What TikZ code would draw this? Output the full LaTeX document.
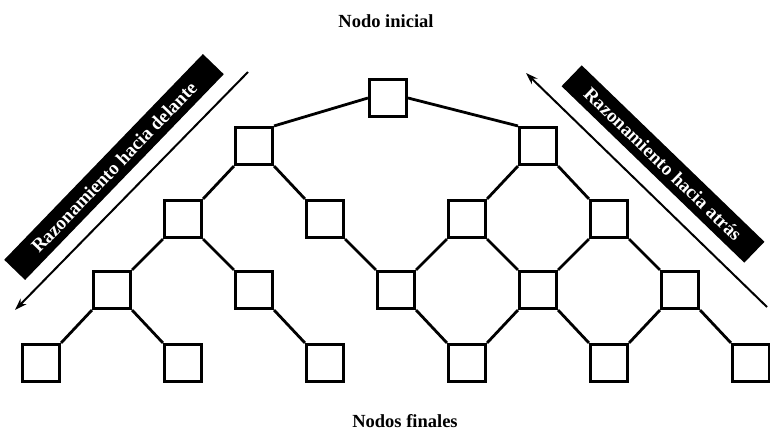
\documentclass[tikz,border=0pt]{standalone}
\usepackage{fontspec}
\setmainfont{Liberation Serif}
\usetikzlibrary{arrows.meta}
\begin{document}
\begin{tikzpicture}[x=1pt,y=-1pt,
  caja/.style={draw=black,fill=white,line width=2.6pt,minimum size=37.5pt,inner sep=0pt},
  rama/.style={black,line width=2.8pt},
  flecha/.style={black,line width=2pt,-{Stealth[length=12pt,width=8pt]}},
  banda/.style={fill=black,text=white,font=\fontsize{19}{22}\selectfont\bfseries,minimum height=29pt,inner sep=0pt},
  titulo/.style={font=\fontsize{18.5}{22}\selectfont\bfseries}]
\useasboundingbox (0,0) rectangle (770,439);
% nodo inicial
\node[caja] (top) at (388,98) {};
% nivel 1
\node[caja] (a1) at (254,146) {};
\node[caja] (a2) at (538,146) {};
% nivel 2
\node[caja] (b1) at (183,219) {};
\node[caja] (b2) at (325,219) {};
\node[caja] (b3) at (467,219) {};
\node[caja] (b4) at (609,219) {};
% nivel 3
\node[caja] (c1) at (112,290) {};
\node[caja] (c2) at (254,290) {};
\node[caja] (c3) at (396,290) {};
\node[caja] (c4) at (538,290) {};
\node[caja] (c5) at (680,290) {};
% nodos finales
\node[caja] (d1) at (41,363) {};
\node[caja] (d2) at (183,363) {};
\node[caja] (d3) at (325,363) {};
\node[caja] (d4) at (467,363) {};
\node[caja] (d5) at (609,363) {};
\node[caja] (d6) at (751,363) {};
% ramas
\draw[rama] (top.west) -- (a1.north east);
\draw[rama] (top.east) -- (a2.north west);
\draw[rama] (a1.south west) -- (b1.north east);
\draw[rama] (a1.south east) -- (b2.north west);
\draw[rama] (a2.south west) -- (b3.north east);
\draw[rama] (a2.south east) -- (b4.north west);
\draw[rama] (b1.south west) -- (c1.north east);
\draw[rama] (b1.south east) -- (c2.north west);
\draw[rama] (b2.south east) -- (c3.north west);
\draw[rama] (b3.south west) -- (c3.north east);
\draw[rama] (b3.south east) -- (c4.north west);
\draw[rama] (b4.south west) -- (c4.north east);
\draw[rama] (b4.south east) -- (c5.north west);
\draw[rama] (c1.south west) -- (d1.north east);
\draw[rama] (c1.south east) -- (d2.north west);
\draw[rama] (c2.south east) -- (d3.north west);
\draw[rama] (c3.south east) -- (d4.north west);
\draw[rama] (c4.south west) -- (d4.north east);
\draw[rama] (c4.south east) -- (d5.north west);
\draw[rama] (c5.south west) -- (d5.north east);
\draw[rama] (c5.south east) -- (d6.north west);
% flechas
\coordinate (izqA) at (248,72);
\coordinate (izqB) at (15,310);
\coordinate (derA) at (767,307);
\coordinate (derB) at (526,73);
\draw[flecha] (izqA) -- (izqB);
\draw[flecha] (derA) -- (derB);
% bandas
\node[banda,minimum width=286pt,rotate=46] (adelante) at (114,167) {Razonamiento hacia delante};
\node[banda,minimum width=254pt,rotate=-44] (atras) at (663,164) {Razonamiento hacia atrás};
% textos
\node[titulo] (inicial) at (386,21) {Nodo inicial};
\node[titulo] (finales) at (405,421) {Nodos finales};
\end{tikzpicture}
\end{document}
